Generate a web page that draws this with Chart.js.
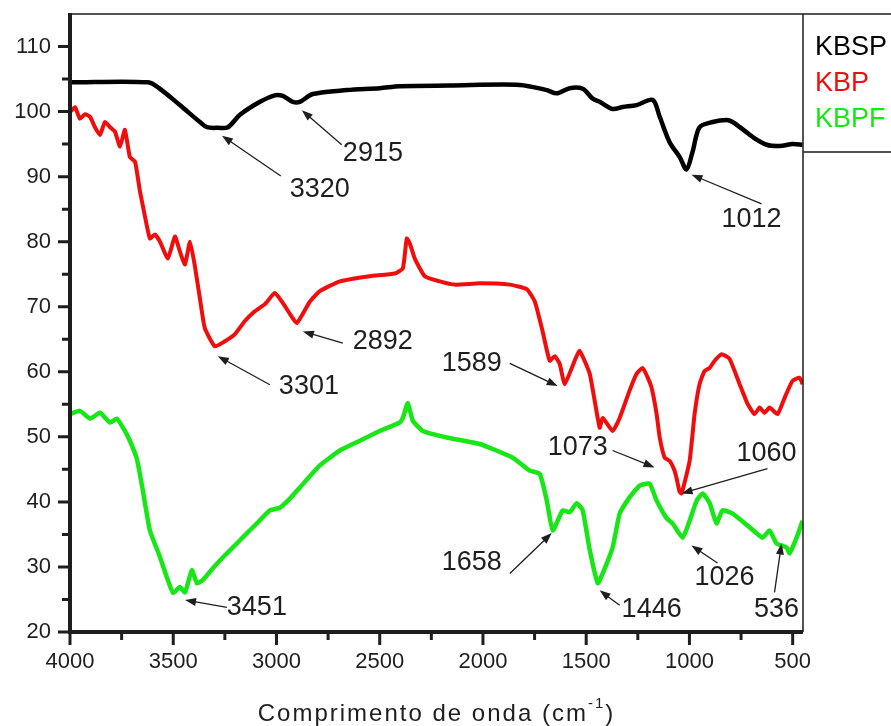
<!DOCTYPE html>
<html>
<head>
<meta charset="utf-8">
<script src="https://cdn.jsdelivr.net/npm/chart.js@4.4.0/dist/chart.umd.min.js"></script>
<style>
html, body { margin: 0; padding: 0; background: #fff; }
</style>
</head>
<body>
<canvas id="ftirChart" width="891" height="726"></canvas>
<script>
// wavenumbers (cm-1) and transmittance
var wn_KBSP = [4000, 3622, 3564, 3468, 3371, 3337, 3284, 3235, 3177, 3080, 3008, 2969, 2921, 2887, 2824, 2659, 2500, 2403, 2161, 1822, 1691, 1643, 1580, 1517, 1469, 1435, 1372, 1323, 1256, 1178, 1144, 1096, 1047, 1014, 985, 951, 888, 820, 791, 743, 694, 626, 563, 500, 452];
var t_KBSP = [104.5, 104.5, 103.5, 101.0, 98.4, 97.6, 97.5, 97.6, 99.5, 101.5, 102.5, 102.4, 101.5, 101.5, 102.7, 103.3, 103.6, 103.9, 104.0, 104.1, 103.3, 102.8, 103.6, 103.5, 102.0, 101.5, 100.4, 100.7, 101.0, 101.8, 99.2, 95.3, 93.0, 91.1, 93.8, 97.6, 98.4, 98.7, 98.4, 97.3, 96.1, 94.9, 94.7, 95.0, 94.9];

var wn_KBP = [4000, 3976, 3952, 3927, 3903, 3879, 3855, 3831, 3806, 3782, 3758, 3734, 3710, 3685, 3661, 3637, 3613, 3589, 3564, 3526, 3492, 3468, 3443, 3419, 3395, 3371, 3347, 3298, 3250, 3201, 3153, 3105, 3056, 3008, 2974, 2935, 2901, 2838, 2790, 2693, 2548, 2427, 2388, 2369, 2354, 2330, 2282, 2209, 2137, 2016, 1870, 1788, 1749, 1711, 1677, 1653, 1628, 1604, 1556, 1532, 1483, 1435, 1420, 1372, 1338, 1290, 1256, 1227, 1202, 1183, 1159, 1144, 1120, 1096, 1072, 1062, 1048, 1038, 999, 975, 951, 927, 902, 878, 844, 806, 757, 719, 685, 660, 636, 612, 573, 539, 501, 467, 452];
var t_KBP = [99.9, 100.7, 98.9, 99.6, 99.2, 97.6, 96.4, 98.4, 97.6, 96.9, 94.6, 97.2, 93.0, 92.3, 87.7, 83.9, 80.5, 81.1, 80.0, 77.4, 80.8, 78.5, 76.5, 80.0, 76.2, 71.3, 66.7, 63.9, 64.7, 65.8, 67.8, 69.3, 70.4, 72.1, 70.8, 68.9, 67.5, 70.8, 72.4, 73.9, 74.7, 75.1, 75.9, 80.5, 79.7, 77.4, 74.7, 73.9, 73.4, 73.6, 73.4, 72.7, 70.8, 66.2, 61.7, 62.4, 61.2, 58.1, 61.7, 63.2, 59.7, 51.4, 52.9, 50.9, 52.9, 57.1, 59.7, 60.6, 59.1, 57.5, 53.5, 49.9, 46.8, 46.3, 44.8, 43.6, 41.6, 41.3, 46.3, 53.5, 58.1, 60.1, 60.6, 61.7, 62.7, 62.0, 58.1, 55.1, 53.5, 54.5, 53.7, 54.5, 53.5, 56.0, 58.6, 59.1, 58.1];

var wn_KBPF = [4000, 3952, 3903, 3855, 3806, 3773, 3734, 3710, 3676, 3647, 3613, 3564, 3531, 3501, 3468, 3443, 3410, 3385, 3356, 3308, 3259, 3211, 3143, 3095, 3032, 2984, 2935, 2887, 2790, 2693, 2596, 2500, 2403, 2388, 2364, 2340, 2291, 2175, 2016, 1856, 1774, 1725, 1691, 1662, 1614, 1580, 1546, 1517, 1483, 1444, 1420, 1372, 1338, 1290, 1241, 1193, 1159, 1111, 1082, 1033, 999, 965, 936, 902, 869, 840, 791, 709, 646, 612, 578, 530, 515, 481, 452];
var t_KBPF = [53.5, 54.0, 52.8, 53.7, 52.2, 52.8, 50.9, 49.4, 46.6, 41.7, 35.6, 31.5, 28.4, 26.0, 26.9, 26.1, 29.5, 27.5, 28.0, 29.8, 31.5, 33.0, 35.2, 36.7, 38.7, 39.1, 40.5, 42.2, 45.6, 47.9, 49.4, 50.9, 52.2, 52.9, 55.2, 52.5, 50.9, 49.9, 48.9, 46.8, 44.8, 44.3, 40.2, 35.6, 38.7, 38.4, 39.8, 38.7, 32.6, 27.5, 29.0, 33.0, 38.2, 40.7, 42.5, 42.8, 40.2, 37.5, 36.7, 34.5, 37.1, 40.2, 41.3, 39.8, 36.7, 38.7, 38.2, 36.1, 34.5, 35.6, 33.6, 33.0, 32.1, 34.5, 37.1];

var seriesNames = ['KBSP', 'KBP', 'KBPF'];
var seriesColors = ['#000000', '#f20d0d', '#17e617'];

var xTicks = [4000, 3500, 3000, 2500, 2000, 1500, 1000, 500];
var yTicks = [20, 30, 40, 50, 60, 70, 80, 90, 100, 110];

// peak labels: text position, arrow tail, arrow head (data units)
var peaks = [
    { text: '3320', tx: 2790, ty: 88.0, fx: 2979, fy: 90.1, hx: 3264, hy: 96.3 },
    { text: '2915', tx: 2533, ty: 93.5, fx: 2684, fy: 94.9, hx: 2877, hy: 100.2 },
    { text: '1012', tx: 699, ty: 83.4, fx: 651, fy: 85.8, hx: 990, hy: 90.3 },
    { text: '3301', tx: 2843, ty: 57.7, fx: 3032, fy: 58.0, hx: 3284, hy: 62.4 },
    { text: '2892', tx: 2485, ty: 64.7, fx: 2679, fy: 64.4, hx: 2872, hy: 66.2 },
    { text: '1589', tx: 2054, ty: 61.3, fx: 1870, fy: 61.3, hx: 1638, hy: 57.8 },
    { text: '1073', tx: 1541, ty: 48.3, fx: 1372, fy: 47.9, hx: 1169, hy: 45.3 },
    { text: '1060', tx: 627, ty: 47.4, fx: 622, fy: 45.1, hx: 1038, hy: 41.3 },
    { text: '1658', tx: 2054, ty: 30.6, fx: 1870, fy: 29.0, hx: 1667, hy: 35.2 },
    { text: '1446', tx: 1183, ty: 23.4, fx: 1338, fy: 24.1, hx: 1435, hy: 26.4 },
    { text: '1026', tx: 830, ty: 28.3, fx: 864, fy: 30.6, hx: 990, hy: 33.3 },
    { text: '536', tx: 578, ty: 23.4, fx: 588, fy: 26.1, hx: 554, hy: 33.6 },
    { text: '3451', tx: 3095, ty: 23.8, fx: 3240, fy: 23.8, hx: 3443, hy: 24.9 }
];

var FONT = '"Liberation Sans", Arial, sans-serif';
var INK = '#1e1e1e';

function toPoints(xs, ys) {
    var pts = [];
    for (let i = 0; i < xs.length; i++) {
        pts.push({ x: xs[i], y: ys[i] });
    }
    return pts;
}

// frame, thick axes, ticks, legend box and axis title
var framePlugin = {
    id: 'frame',
    afterDraw: function (chart) {
        var ctx = chart.ctx;
        var a = chart.chartArea;
        var sx = chart.scales.x, sy = chart.scales.y;
        var legendBottom = a.top + 138;
        ctx.save();
        ctx.strokeStyle = INK;
        ctx.lineWidth = 1.5;
        ctx.beginPath();
        ctx.moveTo(a.left, a.top); ctx.lineTo(chart.width, a.top);
        ctx.moveTo(a.right, a.top); ctx.lineTo(a.right, a.bottom);
        ctx.moveTo(a.right, legendBottom); ctx.lineTo(chart.width, legendBottom);
        ctx.stroke();

        ctx.lineWidth = 4;
        ctx.beginPath();
        ctx.moveTo(a.left, a.top - 1); ctx.lineTo(a.left, a.bottom + 2);
        ctx.moveTo(a.left - 2, a.bottom); ctx.lineTo(a.right, a.bottom);
        ctx.stroke();

        ctx.lineWidth = 3;
        ctx.beginPath();
        for (let v = 500; v <= 4000; v += 250) {
            var px = sx.getPixelForValue(v);
            var len = (v % 500 === 0) ? 13 : 8;
            ctx.moveTo(px, a.bottom); ctx.lineTo(px, a.bottom + len);
        }
        for (let v = 20; v <= 110; v += 5) {
            var py = sy.getPixelForValue(v);
            var len2 = (v % 10 === 0) ? 12 : 8;
            ctx.moveTo(a.left, py); ctx.lineTo(a.left - len2, py);
        }
        ctx.stroke();

        // legend
        ctx.font = '27px ' + FONT;
        ctx.textAlign = 'left';
        ctx.textBaseline = 'alphabetic';
        for (let i = 0; i < seriesNames.length; i++) {
            ctx.fillStyle = seriesColors[i];
            ctx.fillText(seriesNames[i], a.right + 12, a.top + 41 + i * 36);
        }

        // axis title with superscript
        var cx = (a.left + a.right) / 2;
        var base = a.bottom + 89;
        ctx.fillStyle = INK;
        ctx.letterSpacing = '2px';
        ctx.font = '24px ' + FONT;
        var main = 'Comprimento de onda (cm';
        var wMain = ctx.measureText(main).width;
        ctx.font = '15px ' + FONT;
        var wSup = ctx.measureText('-1').width;
        ctx.font = '24px ' + FONT;
        var wEnd = ctx.measureText(')').width;
        var x0 = cx - (wMain + wSup + wEnd) / 2;
        ctx.fillText(main, x0, base);
        ctx.font = '15px ' + FONT;
        ctx.fillText('-1', x0 + wMain, base - 13);
        ctx.font = '24px ' + FONT;
        ctx.fillText(')', x0 + wMain + wSup, base);
        ctx.restore();
    }
};

// peak annotations with arrows
var peakPlugin = {
    id: 'peaks',
    afterDatasetsDraw: function (chart) {
        var ctx = chart.ctx;
        var sx = chart.scales.x, sy = chart.scales.y;
        ctx.save();
        ctx.font = '27px ' + FONT;
        ctx.textAlign = 'center';
        ctx.textBaseline = 'middle';
        ctx.fillStyle = INK;
        ctx.strokeStyle = INK;
        ctx.lineWidth = 1.3;
        peaks.forEach(function (p) {
            ctx.fillText(p.text, sx.getPixelForValue(p.tx), sy.getPixelForValue(p.ty));
            var x1 = sx.getPixelForValue(p.fx), y1 = sy.getPixelForValue(p.fy);
            var x2 = sx.getPixelForValue(p.hx), y2 = sy.getPixelForValue(p.hy);
            var ang = Math.atan2(y2 - y1, x2 - x1);
            ctx.beginPath();
            ctx.moveTo(x1, y1);
            ctx.lineTo(x2 - 8 * Math.cos(ang), y2 - 8 * Math.sin(ang));
            ctx.stroke();
            ctx.beginPath();
            ctx.moveTo(x2, y2);
            ctx.lineTo(x2 - 11 * Math.cos(ang) + 4 * Math.sin(ang), y2 - 11 * Math.sin(ang) - 4 * Math.cos(ang));
            ctx.lineTo(x2 - 11 * Math.cos(ang) - 4 * Math.sin(ang), y2 - 11 * Math.sin(ang) + 4 * Math.cos(ang));
            ctx.closePath();
            ctx.fill();
        });
        ctx.restore();
    }
};

Chart.defaults.font.family = FONT;
Chart.defaults.color = INK;

var ctx = document.getElementById('ftirChart');
var ftirChart = new Chart(ctx, {
    type: 'line',
    data: {
        datasets: [
            {
                label: seriesNames[0],
                data: toPoints(wn_KBSP, t_KBSP),
                borderColor: seriesColors[0],
                borderWidth: 4.5,
                pointRadius: 0,
                tension: 0.3
            },
            {
                label: seriesNames[1],
                data: toPoints(wn_KBP, t_KBP),
                borderColor: seriesColors[1],
                borderWidth: 4,
                pointRadius: 0,
                tension: 0.15
            },
            {
                label: seriesNames[2],
                data: toPoints(wn_KBPF, t_KBPF),
                borderColor: seriesColors[2],
                borderWidth: 4.5,
                pointRadius: 0,
                tension: 0.15
            }
        ]
    },
    options: {
        responsive: false,
        animation: false,
        layout: {
            padding: { top: 14, right: 88, left: 0, bottom: 0 }
        },
        plugins: {
            legend: { display: false },
            tooltip: { enabled: false }
        },
        scales: {
            x: {
                type: 'linear',
                reverse: true,
                min: 450,
                max: 4000,
                grid: { display: false, drawTicks: false },
                border: { display: false },
                afterBuildTicks: function (scale) {
                    scale.ticks = xTicks.map(function (v) { return { value: v }; });
                },
                afterFit: function (scale) {
                    scale.height = 94;
                    scale.paddingLeft = 0;
                    scale.paddingRight = 0;
                },
                ticks: {
                    font: { size: 22 },
                    color: INK,
                    padding: 17,
                    maxRotation: 0,
                    callback: function (v) { return String(v); }
                }
            },
            y: {
                min: 20,
                max: 115,
                grid: { display: false, drawTicks: false },
                border: { display: false },
                afterBuildTicks: function (scale) {
                    scale.ticks = yTicks.map(function (v) { return { value: v }; });
                },
                afterFit: function (scale) {
                    scale.width = 70;
                    scale.paddingTop = 0;
                    scale.paddingBottom = 0;
                },
                ticks: {
                    font: { size: 22 },
                    color: INK,
                    padding: 19
                }
            }
        }
    },
    plugins: [peakPlugin, framePlugin]
});
</script>
</body>
</html>
